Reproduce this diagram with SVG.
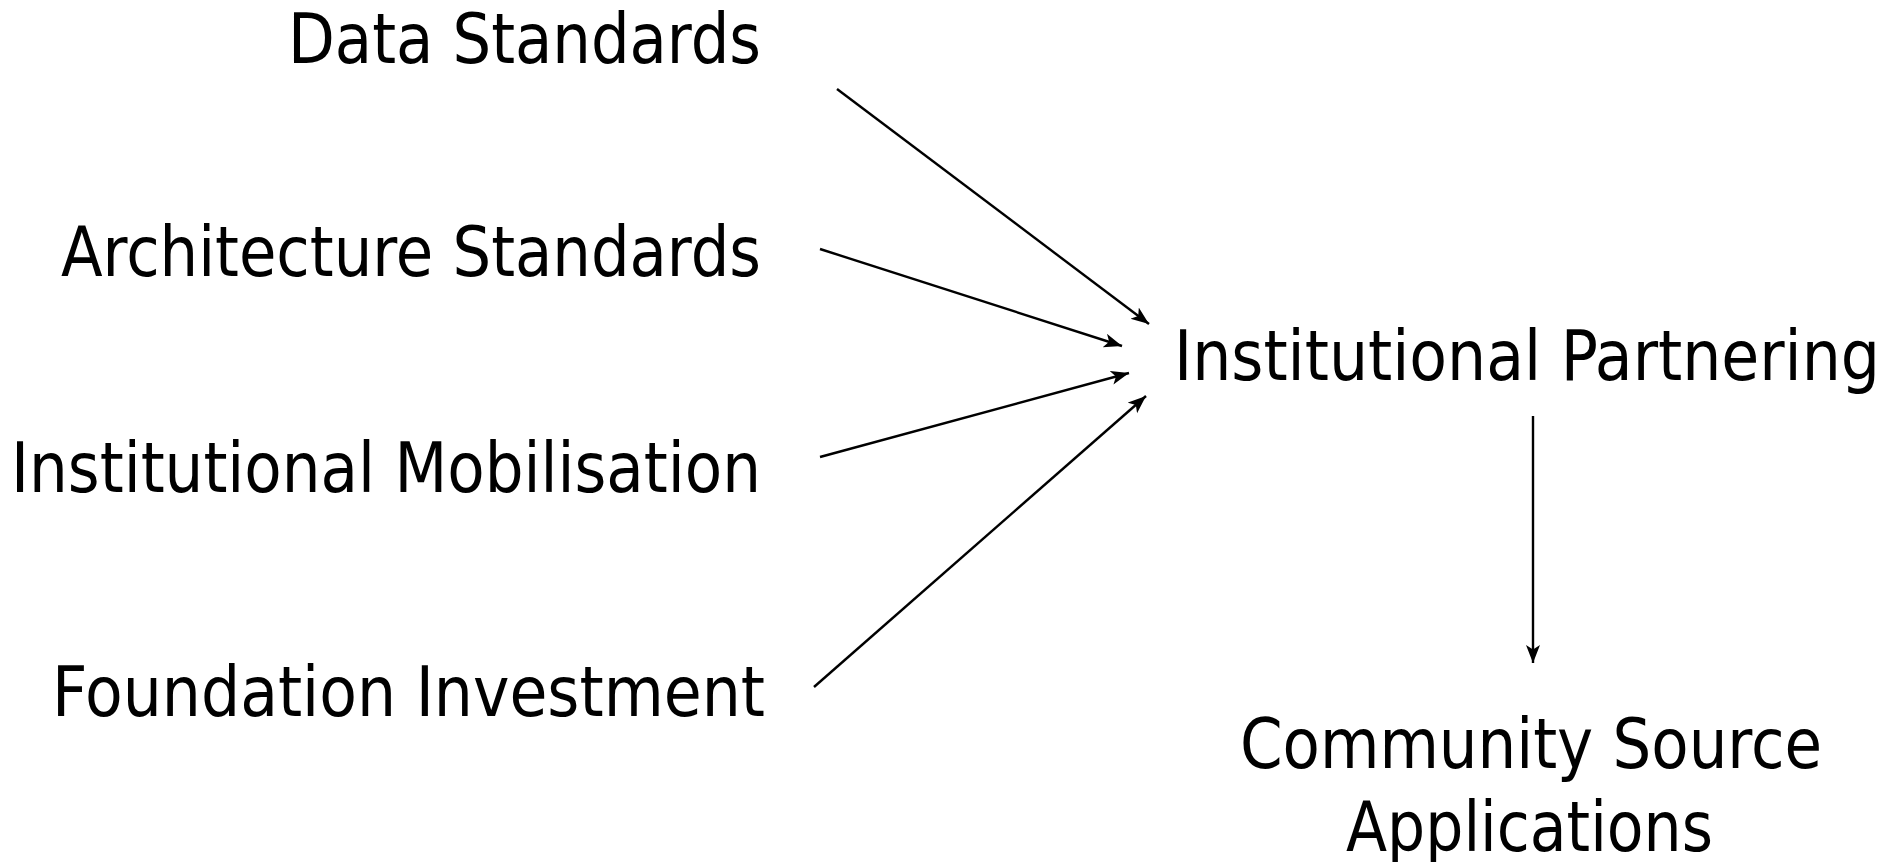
<svg xmlns="http://www.w3.org/2000/svg" width="1898" height="862" viewBox="0 0 1898 862">
<style>
.lbl{font-family:"DejaVu Sans Condensed","DejaVu Sans",sans-serif;font-size:69px;fill:#000}
.conn{stroke:#000;stroke-width:2.4;fill:none;marker-end:url(#arr)}
</style>
<defs>
<marker id="arr" markerUnits="userSpaceOnUse" markerWidth="20" markerHeight="16" refX="18" refY="7" orient="auto">
<path d="M0,0 L18,7 L0,14 L4.5,7 z" fill="#000"/>
</marker>
</defs>
<rect width="1898" height="862" fill="#fff"/>
<g id="data-standards"><text class="lbl" x="288" y="63" textLength="473" lengthAdjust="spacingAndGlyphs">Data Standards</text></g>
<g id="architecture-standards"><text class="lbl" x="61" y="276" textLength="700" lengthAdjust="spacingAndGlyphs">Architecture Standards</text></g>
<g id="institutional-mobilisation"><text class="lbl" x="11" y="492" textLength="750" lengthAdjust="spacingAndGlyphs">Institutional Mobilisation</text></g>
<g id="foundation-investment"><text class="lbl" x="52" y="716" textLength="713" lengthAdjust="spacingAndGlyphs">Foundation Investment</text></g>
<g id="institutional-partnering"><text class="lbl" x="1174" y="380" textLength="706" lengthAdjust="spacingAndGlyphs">Institutional Partnering</text></g>
<g id="community-source-applications">
<text class="lbl" x="1240" y="768" textLength="582" lengthAdjust="spacingAndGlyphs">Community Source</text>
<text class="lbl" x="1346" y="851" textLength="367" lengthAdjust="spacingAndGlyphs">Applications</text>
</g>
<g id="connectors">
<line class="conn" x1="837" y1="89" x2="1149" y2="324"/>
<line class="conn" x1="820" y1="249" x2="1122" y2="346"/>
<line class="conn" x1="820" y1="457" x2="1129" y2="373"/>
<line class="conn" x1="814" y1="687" x2="1146" y2="396"/>
<line class="conn" x1="1533" y1="416" x2="1533" y2="663"/>
</g>
</svg>
